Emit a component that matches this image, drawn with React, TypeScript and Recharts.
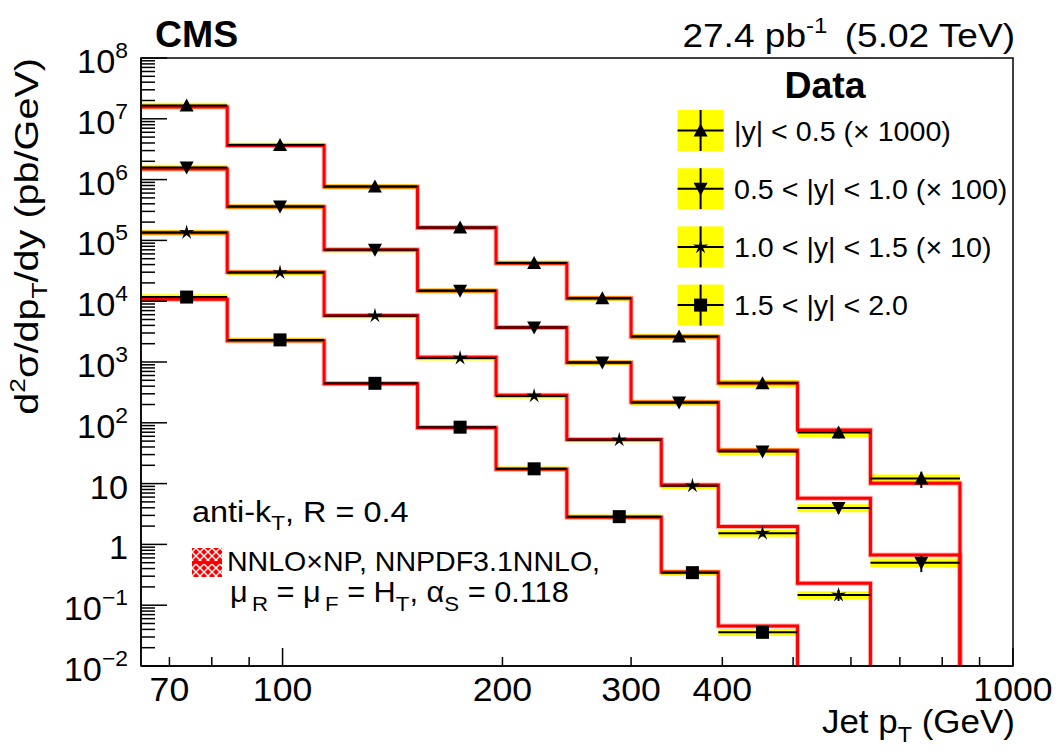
import React from 'react';
import { ComposedChart, Line, Scatter, ErrorBar, XAxis, YAxis, ReferenceArea } from 'recharts';

// bin edges (GeV): |y| < 1.0 uses edgesA, 1.0 < |y| < 2.0 uses edgesB
const edgesA = [64, 84, 114, 153, 196, 245, 300, 395, 507, 638, 846];
const edgesB = [64, 84, 114, 153, 196, 245, 330, 395, 507, 638];
const centersA = [73.9, 99.2, 133.8, 175, 221, 274, 349, 454, 577, 749];
const centersB = [73.9, 99.2, 133.8, 175, 221, 289, 364, 454, 577];

// measured cross sections (already scaled) and NNLO x NP prediction
const data1 = [1.66e7, 3.7e6, 7.7e5, 1.63e5, 4.24e4, 1.12e4, 2.62e3, 446, 69, 12.1];
const theory1 = [1.56e7, 3.65e6, 7.6e5, 1.62e5, 4.2e4, 1.12e4, 2.6e3, 450, 76, 10.1];
const data2 = [1.58e6, 3.61e5, 7.0e4, 1.48e4, 3.69e3, 979, 215, 33.6, 3.98, 0.5];
const theory2 = [1.49e6, 3.58e5, 7.0e4, 1.48e4, 3.7e3, 985, 218, 35.4, 5.75, 0.67];
const data3 = [1.35e5, 2.96e4, 5.74e3, 1.16e3, 277, 52.4, 9.2, 1.53, 0.147];
const theory3 = [1.33e5, 2.98e4, 5.8e3, 1.2e3, 285, 53, 9.5, 1.97, 0.23];
const data4 = [1.17e4, 2.31e3, 446, 84.7, 17.5, 2.86, 0.343, 0.0358];
const theory4 = [1.08e4, 2.24e3, 440, 83, 17.2, 2.8, 0.35, 0.0455];

// relative uncertainties per bin (yellow = syst, bar = stat)
const sysErr = [0.11, 0.09, 0.09, 0.09, 0.09, 0.09, 0.11, 0.13, 0.15, 0.17];
const statErr = [0.005, 0.01, 0.01, 0.02, 0.03, 0.05, 0.08, 0.12, 0.2, 0.3];

const yMajor = [1e-2, 1e-1, 1, 10, 1e2, 1e3, 1e4, 1e5, 1e6, 1e7, 1e8];
const xTicks = [70, 80, 90, 100, 200, 300, 400, 500, 600, 700, 800, 900, 1000];
const xLabels = [70, 100, 200, 300, 400, 1000];

const legendItems = [
  { label: '|y| < 0.5 (\u00d7 1000)', kind: 'up' },
  { label: '0.5 < |y| < 1.0 (\u00d7 100)', kind: 'down' },
  { label: '1.0 < |y| < 1.5 (\u00d7 10)', kind: 'star' },
  { label: '1.5 < |y| < 2.0', kind: 'square' },
];

const series = [
  { kind: 'up', edges: edgesA, centers: centersA, data: data1, theory: theory1 },
  { kind: 'down', edges: edgesA, centers: centersA, data: data2, theory: theory2 },
  { kind: 'star', edges: edgesB, centers: centersB, data: data3, theory: theory3 },
  { kind: 'square', edges: edgesB, centers: centersB, data: data4, theory: theory4 },
];

const yMinor: number[] = [];
yMajor.slice(0, -1).forEach((d) => {
  for (let m = 2; m <= 9; m++) yMinor.push(m * d);
});
const yTicks = [...yMajor, ...yMinor].sort((a, b) => a - b);

const FONT = '"Liberation Sans", Arial, Helvetica, sans-serif';

const makeSteps = (edges: number[], vals: number[]) => [
  ...vals.map((v, i) => ({ x: edges[i], y: v })),
  { x: edges[vals.length], y: vals[vals.length - 1] },
  { x: edges[vals.length], y: 1e-4 },
];

const makePoints = (edges: number[], centers: number[], vals: number[]) =>
  vals.map((v, i) => ({
    x: centers[i],
    y: v,
    ex: [centers[i] - edges[i], edges[i + 1] - centers[i]],
    ey: [v * statErr[i], v * statErr[i]],
  }));

const markerPath = (kind: string, cx: number, cy: number) => {
  if (kind === 'up') return `M${cx - 7},${cy + 6} L${cx + 7},${cy + 6} L${cx},${cy - 7} Z`;
  if (kind === 'down') return `M${cx - 7},${cy - 6} L${cx + 7},${cy - 6} L${cx},${cy + 7} Z`;
  if (kind === 'square') return `M${cx - 6.5},${cy - 6.5} h13 v13 h-13 Z`;
  let d = '';
  for (let k = 0; k < 10; k++) {
    const r = k % 2 === 0 ? 8 : 2.6;
    const a = -Math.PI / 2 + (k * Math.PI) / 5;
    d += `${k === 0 ? 'M' : 'L'}${cx + r * Math.cos(a)},${cy + r * Math.sin(a)} `;
  }
  return d + 'Z';
};

// ROOT text comes out a little wider than Liberation Sans, so stretch it
const T = ({ x, y, size, sx = 1.08, anchor = 'start', weight = 'normal', rotate = 0, children }: any) => (
  <text
    transform={`translate(${x},${y}) rotate(${rotate}) scale(${sx},1)`}
    fontSize={size}
    fontWeight={weight}
    textAnchor={anchor}
    fontFamily={FONT}
    fill="#000"
  >
    {children}
  </text>
);

const YTick = (props: any) => {
  const { x, y, payload } = props;
  const v = payload.value;
  const e = Math.round(Math.log10(v));
  const major = Math.abs(v - Math.pow(10, e)) / v < 1e-6;
  return (
    <g>
      <line x1={x} x2={x + (major ? 26 : 14)} y1={y} y2={y} stroke="#000" strokeWidth={1.5} />
      {major && (
        <T x={x - 13} y={y + 15} size={33} sx={1.04} anchor="end">
          {e === 0 ? '1' : '10'}
          {e !== 0 && e !== 1 && (
            <tspan dy={-15} fontSize={22}>
              {e < 0 ? '\u2212' + Math.abs(e) : e}
            </tspan>
          )}
        </T>
      )}
    </g>
  );
};

const XTick = (props: any) => {
  const { x, y, payload } = props;
  const v = payload.value;
  const major = v === 100 || v === 1000;
  return (
    <g>
      <line x1={x} x2={x} y1={y} y2={y - (major ? 18 : 9)} stroke="#000" strokeWidth={1.5} />
      {xLabels.includes(v) && (
        <T x={x} y={y + 35} size={33} sx={1.08} anchor="middle">
          {v}
        </T>
      )}
    </g>
  );
};

const Marker = (props: any) => (
  <path d={markerPath(props.kind, props.cx, props.cy)} fill="#000" />
);

export default function App() {
  return (
    <div style={{ position: 'absolute', left: 0, top: 0, width: 1060, height: 755, background: '#fff' }}>
      <ComposedChart width={1060} height={755} margin={{ top: 58, right: 47, bottom: 59, left: 81 }}>
        <XAxis
          type="number"
          dataKey="x"
          scale="log"
          domain={[64, 1000]}
          allowDataOverflow
          ticks={xTicks}
          interval={0}
          tick={<XTick />}
          tickLine={false}
          tickSize={0}
          tickMargin={0}
          height={30}
          axisLine={{ stroke: '#000', strokeWidth: 1.5 }}
        />
        <YAxis
          type="number"
          dataKey="y"
          scale="log"
          domain={[0.01, 1e8]}
          allowDataOverflow
          ticks={yTicks}
          interval={0}
          tick={<YTick />}
          tickLine={false}
          tickSize={0}
          tickMargin={0}
          width={60}
          axisLine={{ stroke: '#000', strokeWidth: 1.5 }}
        />
        {series.map((s, si) =>
          s.data.map((v, i) => (
            <ReferenceArea
              key={`band-${si}-${i}`}
              x1={s.edges[i]}
              x2={s.edges[i + 1]}
              y1={v * (1 - sysErr[i])}
              y2={v * (1 + sysErr[i])}
              fill="#ffff00"
              fillOpacity={1}
              stroke="none"
              ifOverflow="hidden"
            />
          ))
        )}
        {series.map((s, si) => (
          <Line
            key={`halo-${si}`}
            data={makeSteps(s.edges, s.theory)}
            dataKey="y"
            type="stepAfter"
            stroke="#ff0000"
            strokeOpacity={0.3}
            strokeWidth={5}
            dot={false}
            isAnimationActive={false}
          />
        ))}
        {series.map((s, si) => (
          <Line
            key={`theory-${si}`}
            data={makeSteps(s.edges, s.theory)}
            dataKey="y"
            type="stepAfter"
            stroke="#ff0000"
            strokeWidth={3}
            dot={false}
            isAnimationActive={false}
          />
        ))}
        {series.map((s, si) => (
          <Scatter
            key={`data-${si}`}
            data={makePoints(s.edges, s.centers, s.data)}
            dataKey="y"
            shape={(p: any) => <Marker kind={s.kind} cx={p.cx} cy={p.cy} />}
            isAnimationActive={false}
          >
            <ErrorBar dataKey="ex" direction="x" width={0} stroke="#000" strokeWidth={2} isAnimationActive={false} />
            <ErrorBar dataKey="ey" direction="y" width={0} stroke="#000" strokeWidth={2} isAnimationActive={false} />
          </Scatter>
        ))}
        <ReferenceArea x1={64} x2={1000} y1={0.01} y2={1e8} fill="none" stroke="#000" strokeWidth={1.5} />
      </ComposedChart>

      <svg
        width={1060}
        height={755}
        style={{ position: 'absolute', left: 0, top: 0, pointerEvents: 'none' }}
      >
        <defs>
          <pattern id="hatch" width="8" height="8" patternUnits="userSpaceOnUse">
            <rect width="8" height="8" fill="#ff0000" />
            <path d="M0,8 L8,0 M0,0 L8,8" stroke="#fff" strokeWidth={1.4} />
          </pattern>
        </defs>
        <T x={155} y={47} size={36} sx={1.04} weight="bold">CMS</T>
        <T x={1015} y={47} size={34} sx={1.09} anchor="end">
          27.4 pb<tspan dy={-14} fontSize={22}>-1</tspan>
          <tspan dy={14} dx={16}>(5.02 TeV)</tspan>
        </T>
        <T x={38} y={58} size={33} sx={1.2} rotate={-90} anchor="end">
          d<tspan dy={-13} fontSize={22}>2</tspan>
          <tspan dy={13}>{'\u03c3/dp'}</tspan>
          <tspan dy={9} fontSize={22}>T</tspan>
          <tspan dy={-9}>/dy (pb/GeV)</tspan>
        </T>
        <T x={1015} y={733} size={33} sx={1.06} anchor="end">
          Jet p<tspan dy={9} fontSize={22}>T</tspan>
          <tspan dy={-9}> (GeV)</tspan>
        </T>

        <T x={825} y={98} size={36} sx={1.04} weight="bold" anchor="middle">Data</T>
        {legendItems.map((it, i) => {
          const cy = 130.5 + i * 58.2;
          return (
            <g key={it.label}>
              <rect x={677.6} y={cy - 20.5} width={46} height={41} fill="#ffff00" />
              <line x1={677.6} x2={723.6} y1={cy} y2={cy} stroke="#000" strokeWidth={2} />
              <line x1={700.6} x2={700.6} y1={cy - 20.5} y2={cy + 20.5} stroke="#000" strokeWidth={2} />
              <path d={markerPath(it.kind, 700.6, cy)} fill="#000" />
              <T x={734} y={cy + 10} size={27} sx={1.06}>{it.label}</T>
            </g>
          );
        })}

        <T x={192} y={522} size={30} sx={1.08}>
          anti-k<tspan dy={8} fontSize={21}>T</tspan>
          <tspan dy={-8}>, R = 0.4</tspan>
        </T>
        <rect x={192} y={548} width={30} height={29} fill="url(#hatch)" />
        <line x1={192} x2={222} y1={562.5} y2={562.5} stroke="#ff0000" strokeWidth={3} />
        <T x={227} y={571} size={28} sx={1.02}>{'NNLO\u00d7NP, NNPDF3.1NNLO,'}</T>
        <T x={230} y={602} size={29} sx={1.06}>
          {'\u03bc'}<tspan dy={9} fontSize={21} dx={4}>R</tspan>
          <tspan dy={-9}>{' = \u03bc'}</tspan>
          <tspan dy={9} fontSize={21} dx={4}>F</tspan>
          <tspan dy={-9}> = H</tspan>
          <tspan dy={9} fontSize={21}>T</tspan>
          <tspan dy={-9}>{', \u03b1'}</tspan>
          <tspan dy={9} fontSize={21}>S</tspan>
          <tspan dy={-9}> = 0.118</tspan>
        </T>
      </svg>
    </div>
  );
}
